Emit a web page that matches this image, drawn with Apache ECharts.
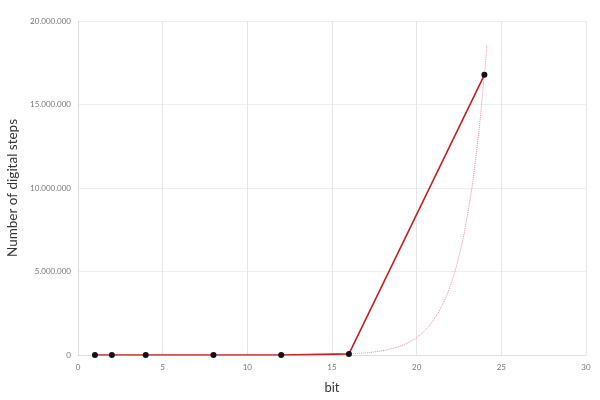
<!DOCTYPE html>
<html><head><meta charset="utf-8">
<script src="https://cdn.jsdelivr.net/npm/echarts@6/dist/echarts.min.js"></script>
<style>html,body{margin:0;padding:0;background:#fff}#c{width:600px;height:400px}</style>
</head><body><div id="c"></div>
<script>
var bits = [1, 2, 4, 8, 12, 16, 24];
var steps = [2, 4, 16, 256, 4096, 65536, 16777216];
var trendX = [16, 16.5, 17, 17.5, 18, 18.5, 19, 19.5, 20, 20.5, 21, 21.5, 22, 22.5, 23, 23.5, 24, 24.15];
var trendY = [65000, 93000, 131000, 185000, 262000, 371000, 524000, 741000, 1050000, 1480000, 2100000, 2970000, 4190000, 5930000, 8390000, 11860000, 16780000, 18600000];
var yTicks = [0, 5000000, 10000000, 15000000, 20000000];

function fmt(v){ return String(Math.round(v)).replace(/\B(?=(\d{3})+(?!\d))/g, '.'); }
var chart = echarts.init(document.getElementById('c'));
chart.setOption({
  animation: false,
  grid: {left: 78, right: 14, top: 21, bottom: 45, containLabel: false, outerBoundsMode: 'none'},
  xAxis: {
    type: 'value', min: 0, max: 30, interval: 5,
    name: 'bit', nameLocation: 'middle', nameGap: 26,
    nameTextStyle: {fontSize: 13, color: '#333', fontFamily: 'Lato'},
    axisLine: {show: true, lineStyle: {color: '#ddd'}},
    axisTick: {show: false},
    axisLabel: {fontSize: 8, color: '#777', fontFamily: 'Lato', margin: 8},
    splitLine: {show: true, lineStyle: {color: '#e6e6e6'}}
  },
  yAxis: {
    type: 'value', min: 0, max: yTicks[yTicks.length-1], interval: 5000000,
    name: 'Number of digital steps', nameLocation: 'middle', nameGap: 56,
    nameTextStyle: {fontSize: 13.5, color: '#333', fontFamily: 'Lato'},
    axisLine: {show: true, lineStyle: {color: '#ddd'}},
    axisTick: {show: false},
    axisLabel: {fontSize: 8, color: '#777', fontFamily: 'Lato', margin: 7, formatter: fmt},
    splitLine: {show: true, lineStyle: {color: '#eeeeee'}}
  },
  series: [
    {
      type: 'line', smooth: true, symbol: 'none',
      data: trendX.map(function(x,i){return [x, trendY[i]];}),
      lineStyle: {color: '#e8909a', width: 1, type: 'dotted'}, z: 1
    },
    {
      type: 'line', symbol: 'circle', symbolSize: 6,
      data: bits.map(function(x,i){return [x, steps[i]];}),
      lineStyle: {color: '#c62020', width: 1.6},
      itemStyle: {color: '#111'}, z: 3
    }
  ]
});
</script></body></html>
